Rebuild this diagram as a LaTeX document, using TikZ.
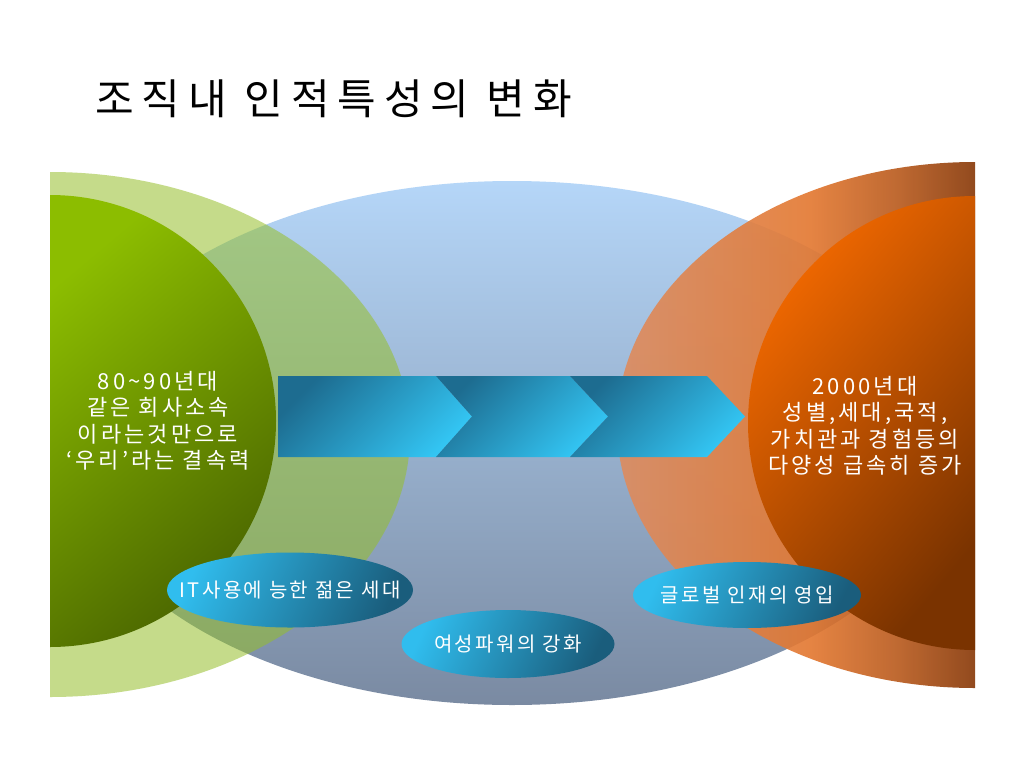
\documentclass[tikz,border=0pt]{standalone}
\usepackage{fontspec}
\setmainfont{Noto Sans CJK KR}
\newfontfamily\pillfont[LetterSpace=12]{Noto Sans CJK KR}
\newfontfamily\titlefont[LetterSpace=19]{Noto Sans CJK KR}
\newfontfamily\circfont[LetterSpace=14]{Noto Sans CJK KR}
\usetikzlibrary{shapes.geometric}
\definecolor{bluetop}{HTML}{B5D6F8}
\definecolor{bluebot}{HTML}{7A8AA2}
\definecolor{lgreen}{HTML}{96BF2A}
\definecolor{dgtop}{HTML}{8CBD00}
\definecolor{dgbot}{HTML}{4A6500}
\definecolor{orA}{HTML}{DE8C5F}
\definecolor{orB}{HTML}{E3772F}
\definecolor{orC}{HTML}{7A2E00}
\definecolor{oiA}{HTML}{F56A00}
\definecolor{oiB}{HTML}{7A3300}
\definecolor{chA}{HTML}{1D6C90}
\definecolor{chB}{HTML}{33C5F3}
\definecolor{plA}{HTML}{30BDEE}
\definecolor{plB}{HTML}{1A5D7C}
\pgfdeclarehorizontalshading{outerorange}{100bp}{color(0bp)=(orA); color(25bp)=(orA); color(52bp)=(orB); color(64bp)=(orB!60!orC); color(75bp)=(orB!12!orC); color(100bp)=(orC)}
\tikzset{
  chevron/.style={top color=chA, bottom color=chB, shading angle=45},
  pill/.style={ellipse, inner sep=0pt, top color=plA, bottom color=plB, shading angle=65},
  pilltext/.style={inner sep=0pt, text=white, font=\pillfont\fontsize{20}{24}\selectfont},
  circletext/.style={text=white, align=center, inner sep=0pt, font=\circfont\fontsize{22}{26.5}\selectfont}
}
\begin{document}
\begin{tikzpicture}[x=1pt,y=-1pt]
\useasboundingbox (0,0) rectangle (1024,768);
\fill[white] (0,0) rectangle (1024,768);
\node[anchor=west, inner sep=0pt, font=\titlefont\fontsize{42}{50}\selectfont] (title) at (95,99) {조직내 인적특성의 변화};
% blue central ellipse
\shade[top color=bluetop, bottom color=bluebot] (512,443) ellipse [x radius=445pt, y radius=262pt];
% light green half ellipse
\fill[lgreen, fill opacity=0.55] (50,172) arc[start angle=90, end angle=-90, x radius=360pt, y radius=262.5pt] -- cycle;
% dark green half circle
\shade[top color=dgtop, bottom color=dgbot, shading angle=40] (50,195) arc[start angle=90, end angle=-90, radius=226pt] -- cycle;
% outer orange half ellipse
\shade[shading=outerorange, fill opacity=0.9] (975,162) arc[start angle=90, end angle=270, x radius=358pt, y radius=263pt] -- cycle;
% inner orange half circle
\shade[top color=oiA, bottom color=oiB, shading angle=50] (975,196) arc[start angle=90, end angle=270, radius=227pt] -- cycle;
% chevrons
\shade[chevron] (278,376) -- (436,376) -- (472,416.5) -- (436,457) -- (278,457) -- cycle;
\shade[chevron] (436,376) -- (570,376) -- (608,416.5) -- (570,457) -- (436,457) -- (472,416.5) -- cycle;
\shade[chevron] (570,376) -- (707,376) -- (745,416.5) -- (707,457) -- (570,457) -- (608,416.5) -- cycle;
% texts
\node[circletext] (lefttext) at (158,421) {80\char"7E 90년대\\같은 회사소속\\이라는것만으로\\‘우리’라는 결속력};
\node[circletext] (righttext) at (865,426) {2000년대\\성별,세대,국적,\\가치관과 경험등의\\다양성 급속히 증가};
% pills
\node[pill, minimum width=246pt, minimum height=75pt] (pillA) at (290,590) {};
\node[pilltext] (pillAtext) at (pillA.center) {IT사용에 능한 젊은 세대};
\node[pill, minimum width=213pt, minimum height=68pt] (pillB) at (508,644) {};
\node[pilltext] (pillBtext) at (pillB.center) {여성파워의 강화};
\node[pill, minimum width=228pt, minimum height=66pt] (pillC) at (747,595) {};
\node[pilltext] (pillCtext) at (pillC.center) {글로벌 인재의 영입};
\end{tikzpicture}
\end{document}
